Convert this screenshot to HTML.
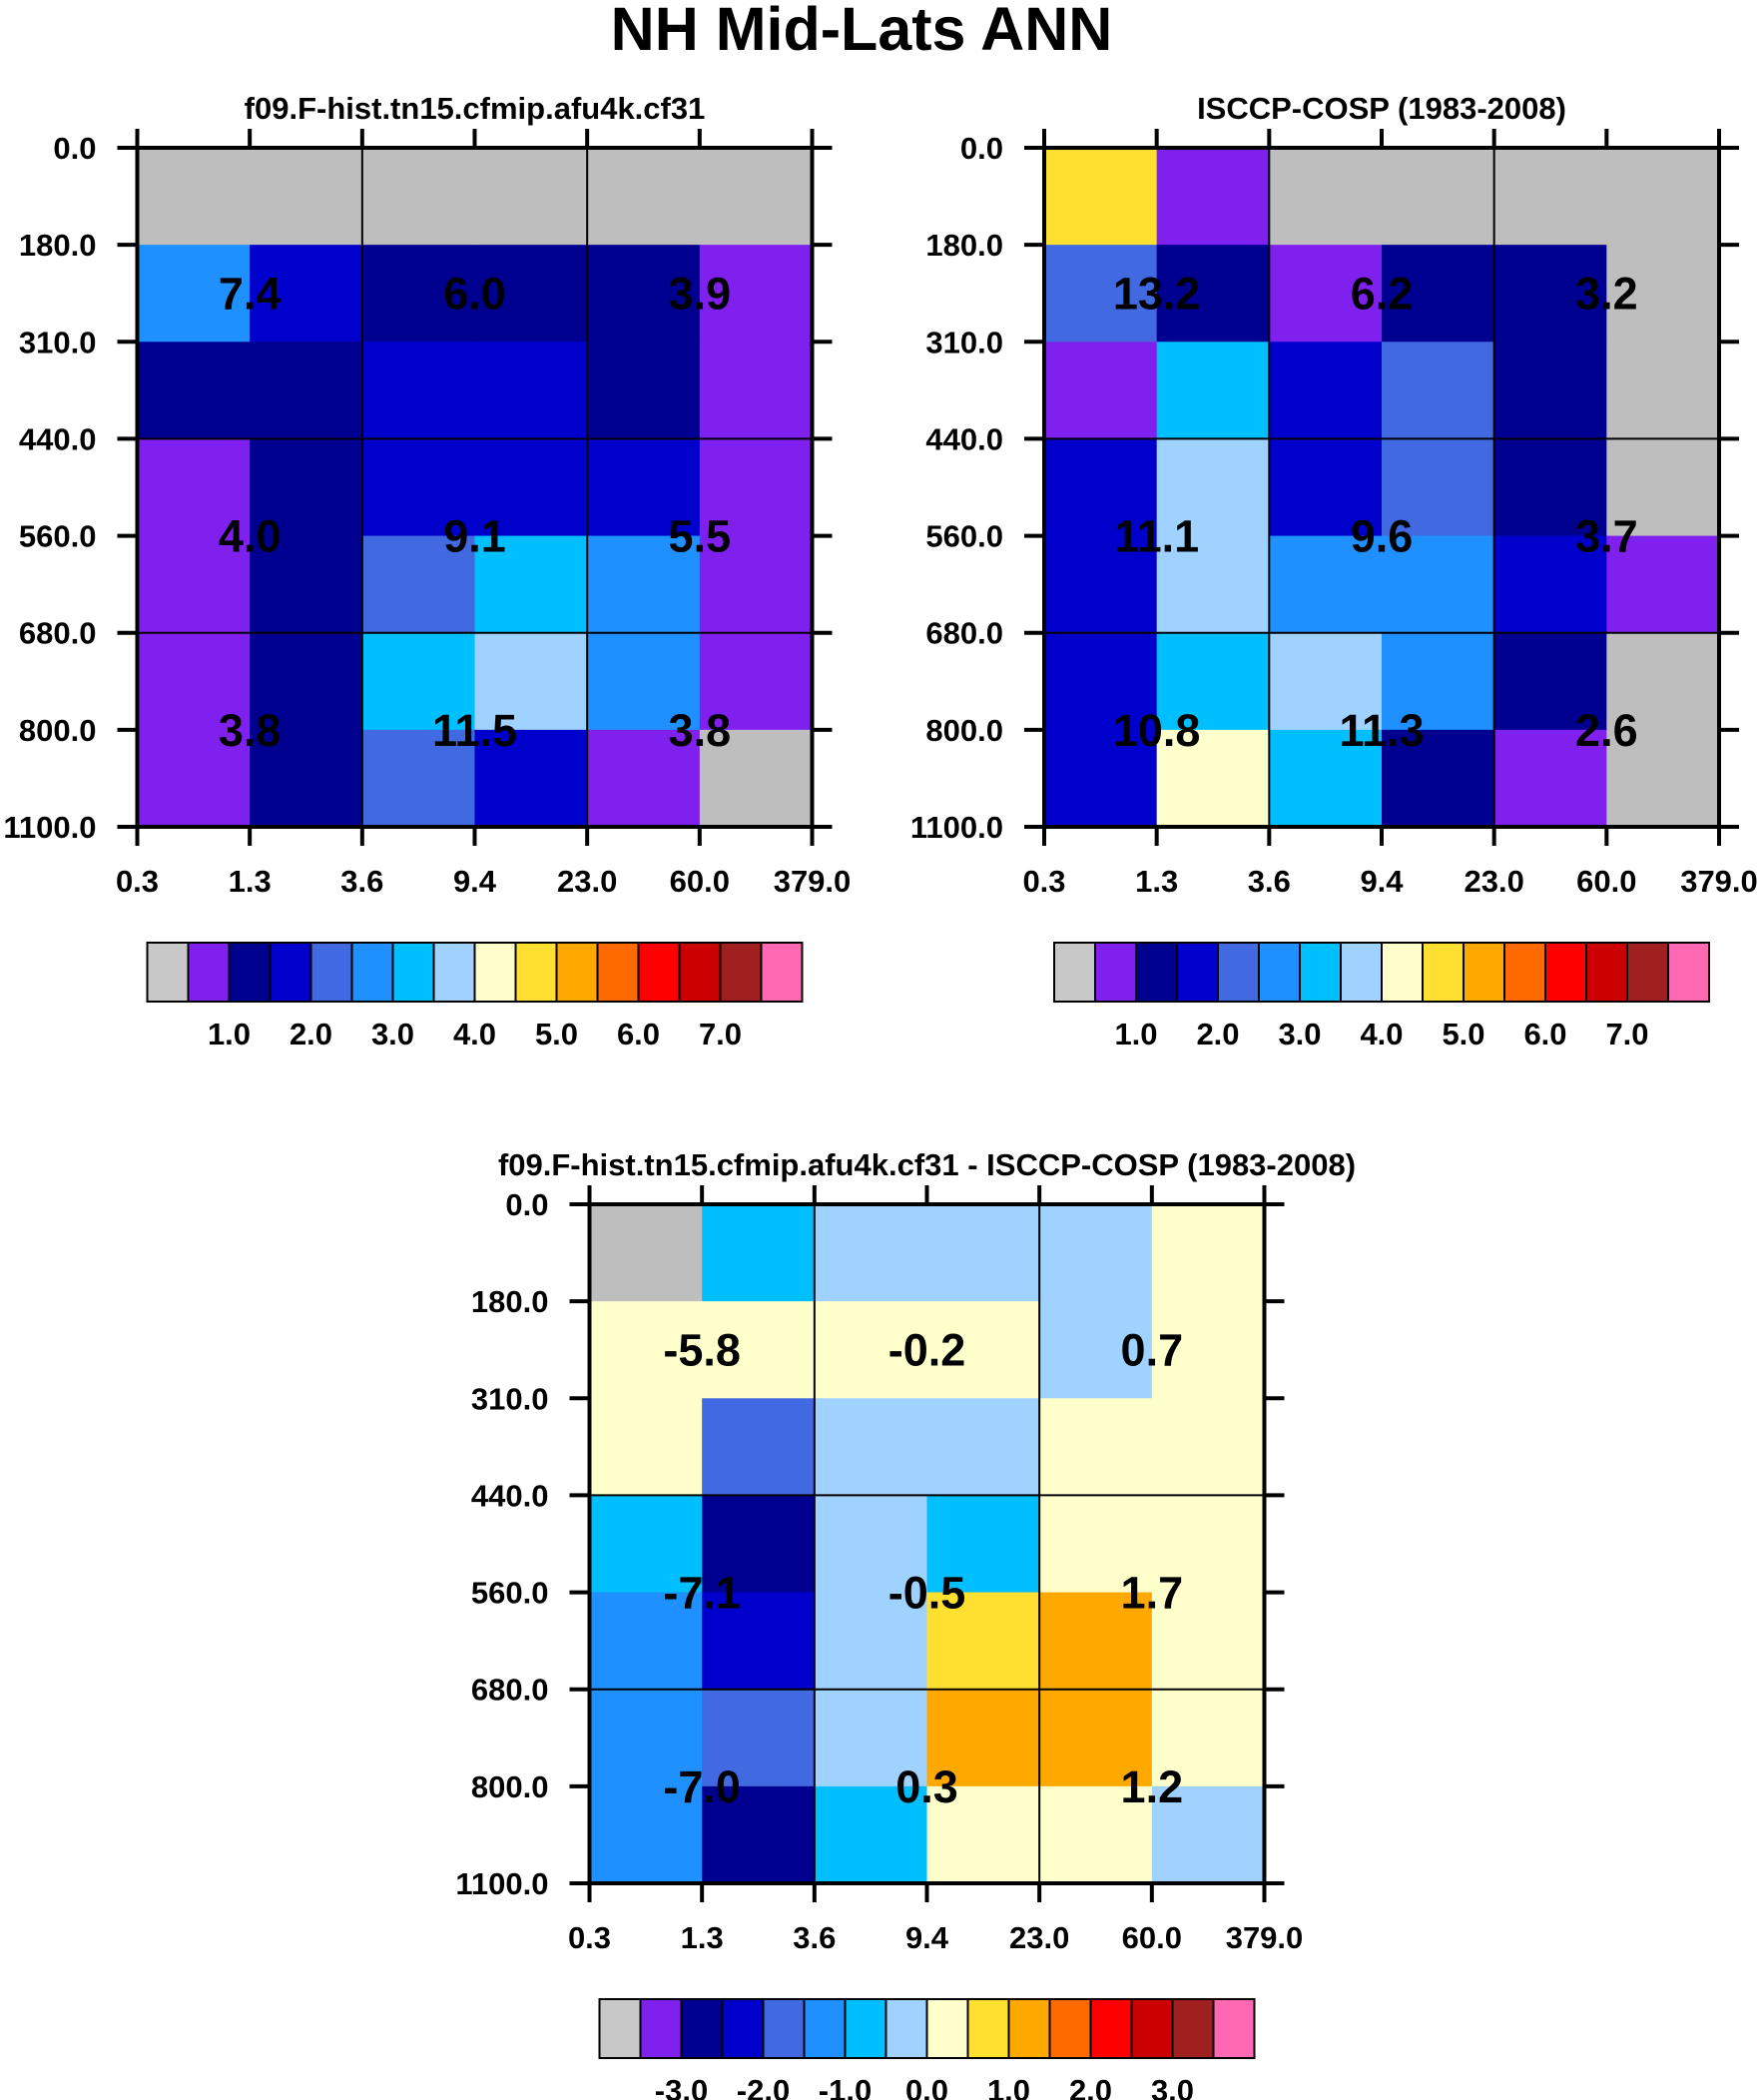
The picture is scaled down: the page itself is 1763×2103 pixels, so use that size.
<!DOCTYPE html>
<html><head><meta charset="utf-8"><style>
html,body{margin:0;padding:0;background:#fff;}
svg{display:block;font-family:"Liberation Sans",Arial,sans-serif;font-weight:bold;}
</style></head><body>
<svg id="chart" width="1763" height="2103" viewBox="0 0 1763 2103" xmlns="http://www.w3.org/2000/svg">
<text x="863" y="50" text-anchor="middle" font-size="61">NH Mid-Lats ANN</text>
</svg>
<script>
const xTickLabels = ["0.3","1.3","3.6","9.4","23.0","60.0","379.0"];
const yTickLabels = ["0.0","180.0","310.0","440.0","560.0","680.0","800.0","1100.0"];
const absLevelLabels = ["1.0","2.0","3.0","4.0","5.0","6.0","7.0"];
const diffLevelLabels = ["-3.0","-2.0","-1.0","0.0","1.0","2.0","3.0"];
const absLevels = [0.5,1,1.5,2,2.5,3,3.5,4,4.5,5,5.5,6,6.5,7,7.5];
const diffLevels = [-3.5,-3,-2.5,-2,-1.5,-1,-0.5,0,0.5,1,1.5,2,2.5,3,3.5];
const palette = ["#bebebe","#8020ee","#000090","#0000cd","#4169e1","#1e90ff","#00bfff","#a0d2ff","#ffffcc","#ffe030","#ffa800","#ff6a00","#ff0000","#cc0000","#a02020","#ff69b4"];
// cell values: rows top(0 hPa) to bottom(1100 hPa), columns tau bins
const modelValues = [
 [null,null,null,null,null,null],
 [2.7,1.7,1.2,1.2,1.2,0.7],
 [1.2,1.2,1.7,1.7,1.2,0.7],
 [0.7,1.2,1.7,1.7,1.7,0.7],
 [0.7,1.2,2.2,3.2,2.7,0.7],
 [0.7,1.2,3.2,3.7,2.7,0.7],
 [0.7,1.2,2.2,1.7,0.7,null]];
const obsValues = [
 [4.7,0.7,null,null,null,null],
 [2.2,1.2,0.7,1.2,1.2,null],
 [0.7,3.2,1.7,2.2,1.2,null],
 [1.7,3.7,1.7,2.2,1.2,null],
 [1.7,3.7,2.7,2.7,1.7,0.7],
 [1.7,3.2,3.7,2.7,1.2,null],
 [1.7,4.2,3.2,1.2,0.7,null]];
const diffValues = [
 [null,-0.7,-0.2,-0.2,-0.2,0.2],
 [0.2,0.2,0.2,0.2,-0.2,0.2],
 [0.2,-1.7,-0.2,-0.2,0.2,0.2],
 [-0.7,-2.7,-0.2,-0.7,0.2,0.2],
 [-1.2,-2.2,-0.2,0.7,1.2,0.2],
 [-1.2,-1.7,-0.2,1.2,1.2,0.2],
 [-1.2,-2.7,-0.7,0.2,0.2,-0.2]];
const modelTotals = ["7.4","6.0","3.9","4.0","9.1","5.5","3.8","11.5","3.8"];
const obsTotals = ["13.2","6.2","3.2","11.1","9.6","3.7","10.8","11.3","2.6"];
const diffTotals = ["-5.8","-0.2","0.7","-7.1","-0.5","1.7","-7.0","0.3","1.2"];

const NS="http://www.w3.org/2000/svg";
const svg=document.getElementById('chart');
function mk(tag,attrs,parent){const e=document.createElementNS(NS,tag);for(const k in attrs)e.setAttribute(k,attrs[k]);(parent||svg).appendChild(e);return e;}
function colorIdx(v,levels){if(v===null)return 0;let i=0;while(i<levels.length&&v>=levels[i])i++;return i;}

function panel(name,left,top,title,values,levels,totals,cbLabels){
  const W=676,H=680,nC=6,nR=7;
  const xs=c=>left+c*W/nC, ys=r=>top+r*H/nR;
  const g=mk('g',{});
  
  
  const t=mk('text',{x:left+W/2,y:top-29,'text-anchor':'middle','font-size':31},g);
  t.textContent=title;
  
  
  for(let r=0;r<nR;r++)for(let c=0;c<nC;c++){
    const rc=mk('rect',{x:xs(c),y:ys(r),width:W/nC+0.6,height:H/nR+0.6,fill:palette[colorIdx(values[r][c],levels)]},g);
    
    
  }
  [2,4].forEach(c=>mk('line',{x1:xs(c),x2:xs(c),y1:top,y2:top+H,stroke:'#000','stroke-width':2},g));
  [3,5].forEach(r=>mk('line',{x1:left,x2:left+W,y1:ys(r),y2:ys(r),stroke:'#000','stroke-width':2},g));
  mk('rect',{x:left,y:top,width:W,height:H,fill:'none',stroke:'#000','stroke-width':4},g);
  for(let c=0;c<=nC;c++){
    mk('line',{x1:xs(c),x2:xs(c),y1:top-19,y2:top,stroke:'#000','stroke-width':4},g);
    mk('line',{x1:xs(c),x2:xs(c),y1:top+H,y2:top+H+19,stroke:'#000','stroke-width':4},g);
    const l=mk('text',{x:xs(c),y:top+H+65,'text-anchor':'middle','font-size':31},g);
    l.textContent=xTickLabels[c];
    
    
  }
  for(let r=0;r<=nR;r++){
    mk('line',{x1:left-20,x2:left,y1:ys(r),y2:ys(r),stroke:'#000','stroke-width':4},g);
    mk('line',{x1:left+W,x2:left+W+20,y1:ys(r),y2:ys(r),stroke:'#000','stroke-width':4},g);
    const l=mk('text',{x:left-41,y:ys(r)+11,'text-anchor':'end','font-size':31},g);
    l.textContent=yTickLabels[r];
    
    
  }
  const lx=[1,3,5], ly=[1.5,4,6];
  let k=0;
  for(let i=0;i<3;i++)for(let j=0;j<3;j++){
    const tx=mk('text',{x:xs(lx[j]),y:ys(ly[i])+16,'text-anchor':'middle','font-size':45},g);
    tx.textContent=totals[k++];
    
    
  }
  const cbL=left+10, cbW=656, cbT=top+H+116, cbH=59, n=palette.length, bw=cbW/n;
  const cb=mk('g',{},g);
  
  
  for(let i=0;i<n;i++){
    mk('rect',{x:cbL+i*bw,y:cbT,width:bw,height:cbH,fill:i===0?'#c8c8c8':palette[i],stroke:'#000','stroke-width':2},cb);
  }
  for(let i=0;i<cbLabels.length;i++){
    const l=mk('text',{x:cbL+(2+2*i)*bw,y:cbT+cbH+43,'text-anchor':'middle','font-size':31},cb);
    l.textContent=cbLabels[i];
    
    
  }
}
panel('model-panel',137.5,148,'f09.F-hist.tn15.cfmip.afu4k.cf31',modelValues,absLevels,modelTotals,absLevelLabels);
panel('obs-panel',1046,148,'ISCCP-COSP (1983-2008)',obsValues,absLevels,obsTotals,absLevelLabels);
panel('diff-panel',590.5,1206,'f09.F-hist.tn15.cfmip.afu4k.cf31 - ISCCP-COSP (1983-2008)',diffValues,diffLevels,diffTotals,diffLevelLabels);
</script>
</body></html>
